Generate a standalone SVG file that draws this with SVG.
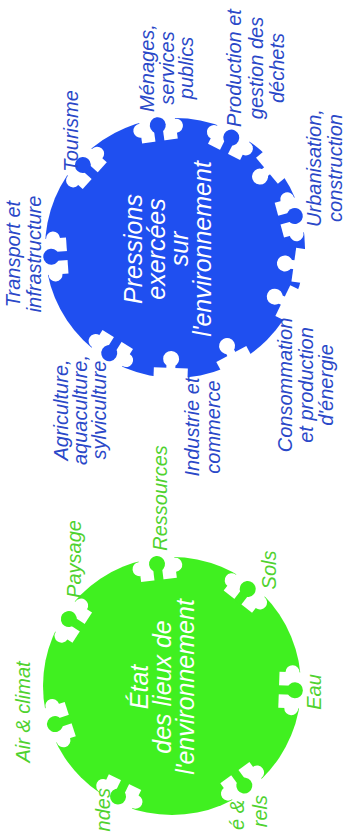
<svg xmlns="http://www.w3.org/2000/svg" xmlns:xlink="http://www.w3.org/1999/xlink" width="350" height="832" viewBox="0 0 350 832">
<style>
text{font-family:"Liberation Sans","DejaVu Sans",sans-serif;font-style:italic;text-anchor:middle}
.lb{fill:#2a48c8;font-size:20px}
.lg{fill:#4fd22f;font-size:20px}
.ct{fill:#ffffff;font-size:25px}
.blue{color:#1f4ff0}
.green{color:#40f020}
</style>
<defs>
<g id="slotK">
<rect x="-18" y="-10" width="36" height="32" fill="#fff"/>
<circle cx="-18" cy="9" r="7" fill="#fff"/>
<circle cx="18" cy="9" r="7" fill="#fff"/>
<rect x="-4.5" y="8" width="9" height="15" fill="currentColor"/>
<circle cx="0" cy="6" r="8" fill="currentColor"/>
</g>
<g id="slotW">
<rect x="-17" y="-10" width="34" height="20" fill="#fff"/>
<rect x="-4.5" y="6" width="9" height="10" fill="#fff"/>
<circle cx="0" cy="19" r="8" fill="#fff"/>
</g>
</defs>
<rect width="350" height="832" fill="#fff"/>

<g id="node-pressions" class="blue">
<circle cx="175" cy="248" r="130" fill="currentColor"/>
<use xlink:href="#slotW" transform="translate(291.8,305) rotate(116)"/>
<use xlink:href="#slotW" transform="translate(236,362.8) rotate(152)"/>
<use xlink:href="#slotW" transform="translate(170.5,377.9) rotate(182)"/>
<use xlink:href="#slotK" transform="translate(106.1,358.2) rotate(212)"/>
<use xlink:href="#slotK" transform="translate(45.3,257.1) rotate(266)"/>
<use xlink:href="#slotK" transform="translate(78.4,161) rotate(312)"/>
<use xlink:href="#slotK" transform="translate(156.9,119.3) rotate(352)"/>
<use xlink:href="#slotK" transform="translate(234,132.2) rotate(27)"/>
<use xlink:href="#slotW" transform="translate(274.6,164.4) rotate(50)"/>
<use xlink:href="#slotK" transform="translate(300.6,214.4) rotate(75)"/>
<use xlink:href="#slotW" transform="translate(303.7,266.1) rotate(98)"/>
<text class="ct" transform="translate(142,249) rotate(-90)"><tspan x="0" y="0">Pressions</tspan><tspan x="0" y="23">exercées</tspan><tspan x="0" y="46">sur</tspan><tspan x="0" y="69">l'environnement</tspan></text>
</g>

<g id="node-etat" class="green">
<circle cx="172" cy="686" r="129" fill="currentColor"/>
<use xlink:href="#slotK" transform="translate(300.9,690.5) rotate(92)"/>
<use xlink:href="#slotK" transform="translate(247.8,790.4) rotate(144)"/>
<use xlink:href="#slotK" transform="translate(115.4,801.9) rotate(206)"/>
<use xlink:href="#slotK" transform="translate(49.3,725.9) rotate(252)"/>
<use xlink:href="#slotK" transform="translate(63.8,615.7) rotate(303)"/>
<use xlink:href="#slotK" transform="translate(156.3,558) rotate(353)"/>
<use xlink:href="#slotK" transform="translate(251.4,584.3) rotate(38)"/>
<text class="ct" transform="translate(148,687) rotate(-90)"><tspan x="0" y="0">État</tspan><tspan x="0" y="23">des lieux de</tspan><tspan x="0" y="46">l'environnement</tspan></text>
</g>

<g id="label-menages"><text class="lb" transform="translate(154,68) rotate(-90)"><tspan x="0" y="0">Ménages,</tspan><tspan x="0" y="20">services</tspan><tspan x="0" y="39">publics</tspan></text></g>
<g id="label-production"><text class="lb" transform="translate(241,68) rotate(-90)"><tspan x="0" y="0">Production et</tspan><tspan x="0" y="21.5">gestion des</tspan><tspan x="0" y="43">déchets</tspan></text></g>
<g id="label-urbanisation"><text class="lb" transform="translate(321,168) rotate(-90)"><tspan x="0" y="0">Urbanisation,</tspan><tspan x="0" y="20.5">construction</tspan></text></g>
<g id="label-consommation"><text class="lb" transform="translate(292,385) rotate(-90)"><tspan x="0" y="0">Consommation</tspan><tspan x="0" y="20.5">et production</tspan><tspan x="0" y="41">d'énergie</tspan></text></g>
<g id="label-industrie"><text class="lb" transform="translate(199,427) rotate(-90)"><tspan x="0" y="0">Industrie et</tspan><tspan x="0" y="21">commerce</tspan></text></g>
<g id="label-agriculture"><text class="lb" transform="translate(68,410) rotate(-90)"><tspan x="0" y="0">Agriculture,</tspan><tspan x="0" y="19">aquaculture,</tspan><tspan x="0" y="38">sylviculture</tspan></text></g>
<g id="label-transport"><text class="lb" transform="translate(20,254) rotate(-90)"><tspan x="0" y="0">Transport et</tspan><tspan x="0" y="21">infrastructure</tspan></text></g>
<g id="label-tourisme"><text class="lb" transform="translate(78,131) rotate(-90)">Tourisme</text></g>

<g id="label-air"><text class="lg" transform="translate(30,712) rotate(-90)">Air &amp; climat</text></g>
<g id="label-paysage"><text class="lg" transform="translate(81,559) rotate(-90)">Paysage</text></g>
<g id="label-ressources"><text class="lg" transform="translate(167,498) rotate(-90)">Ressources</text></g>
<g id="label-sols"><text class="lg" transform="translate(276,570) rotate(-90)">Sols</text></g>
<g id="label-eau"><text class="lg" transform="translate(321,692) rotate(-90)">Eau</text></g>
<g id="label-ndes"><text class="lg" style="text-anchor:end" transform="translate(110,788) rotate(-90)">ndes</text></g>
<g id="label-bottom-right"><text class="lg" style="text-anchor:end" transform="translate(244,800) rotate(-90)">é &amp;</text><text class="lg" style="text-anchor:end" transform="translate(267,795) rotate(-90)">rels</text></g>
</svg>
